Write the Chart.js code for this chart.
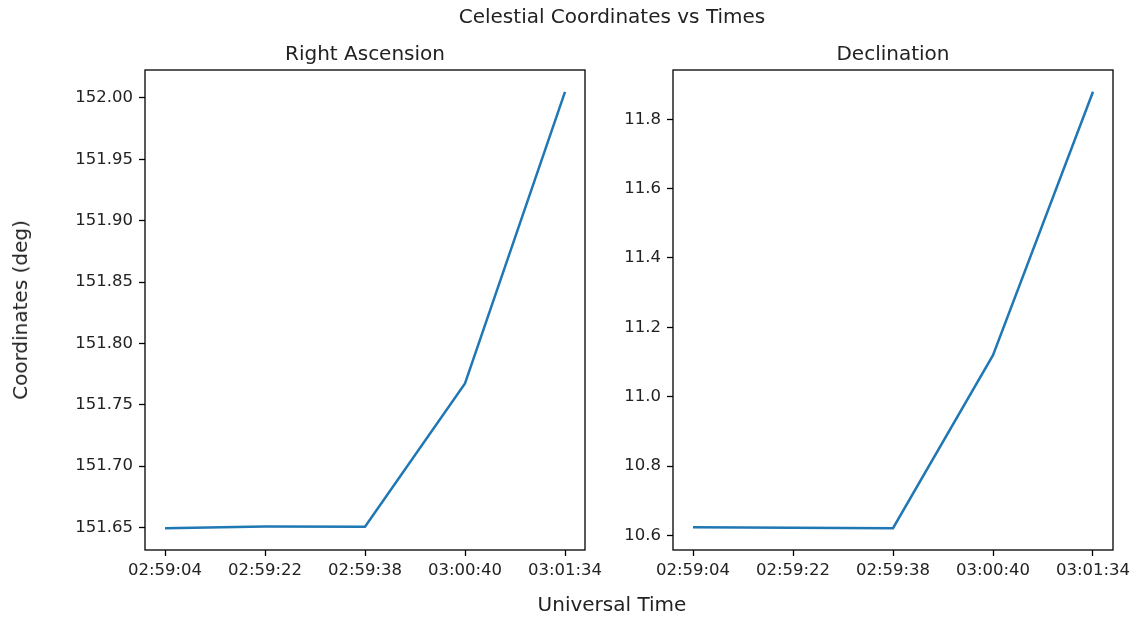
<!DOCTYPE html>
<html>
<head>
<meta charset="utf-8">
<script src="https://cdn.jsdelivr.net/npm/chart.js@4"></script>
<style>
  body { margin: 0; background: #fff; }
  #wrap { position: relative; width: 1134px; height: 617px; overflow: hidden; font-family: 'DejaVu Sans', sans-serif; color: #222; }
  canvas { position: absolute; top: 0; }
  .txt { position: absolute; font-size: 20px; white-space: nowrap; transform: translate(-50%, -50%); }
</style>
</head>
<body>
<div id="wrap">
  <canvas id="raChart" width="620" height="617" style="left:0"></canvas>
  <canvas id="decChart" width="524" height="617" style="left:620px"></canvas>
  <div class="txt" style="left:612px; top:16px">Celestial Coordinates vs Times</div>
  <div class="txt" id="raTitle" style="left:365px; top:53px">Right Ascension</div>
  <div class="txt" id="decTitle" style="left:893px; top:53px">Declination</div>
  <div class="txt" style="left:612px; top:604px">Universal Time</div>
  <div class="txt" style="left:20px; top:310px; transform: translate(-50%, -50%) rotate(-90deg)">Coordinates (deg)</div>
</div>
<script>
const times = ["02:59:04", "02:59:22", "02:59:38", "03:00:40", "03:01:34"];
const raValues = [151.6495, 151.6508, 151.6507, 151.7675, 152.005];
const decValues = [10.624, 10.622, 10.621, 11.12, 11.879];

Chart.defaults.font.family = "'DejaVu Sans', sans-serif";
Chart.defaults.color = "#222";

// box round the plot area, like matplotlib spines
const frame = {
    id: "frame",
    afterDraw(c) {
        const a = c.chartArea;
        const ctx = c.ctx;
        ctx.save();
        ctx.strokeStyle = "#000";
        ctx.lineWidth = 1.3;
        ctx.strokeRect(a.left, a.top, a.right - a.left, a.bottom - a.top);
        ctx.restore();
    }
};

function makeChart(id, values, step, digits, yWidth, padRight) {
    const lo = Math.min(...values);
    const hi = Math.max(...values);
    const m = (hi - lo) * 0.05;

    return new Chart(document.getElementById(id), {
        type: "line",
        data: {
            datasets: [{
                data: values.map((v, i) => ({ x: i, y: v })),
                borderColor: "#1f77b4",
                borderWidth: 2.5,
                pointRadius: 0,
                tension: 0,
                fill: false
            }]
        },
        options: {
            responsive: false,
            animation: false,
            layout: { padding: { top: 70, right: padRight, bottom: 0, left: 0 } },
            plugins: {
                legend: { display: false },
                tooltip: { enabled: false }
            },
            scales: {
                x: {
                    type: "linear",
                    min: -0.2,
                    max: times.length - 1 + 0.2,
                    border: { display: false },
                    grid: { drawOnChartArea: false, tickLength: 6, tickColor: "#000", tickWidth: 1.3 },
                    ticks: {
                        stepSize: 1,
                        includeBounds: false,
                        maxRotation: 0,
                        autoSkip: false,
                        padding: 5,
                        font: { size: 16.5 },
                        callback: v => times[v]
                    },
                    afterFit: s => { s.height = 67; }
                },
                y: {
                    min: lo - m,
                    max: hi + m,
                    border: { display: false },
                    grid: { drawOnChartArea: false, tickLength: 6, tickColor: "#000", tickWidth: 1.3 },
                    ticks: {
                        stepSize: step,
                        includeBounds: false,
                        padding: 6,
                        font: { size: 16.5 },
                        callback: v => v.toFixed(digits)
                    },
                    afterFit: s => { s.width = yWidth; }
                }
            }
        },
        plugins: [frame]
    });
}

makeChart("raChart", raValues, 0.05, 2, 145, 35);
makeChart("decChart", decValues, 0.2, 1, 53, 31);
</script>
</body>
</html>
